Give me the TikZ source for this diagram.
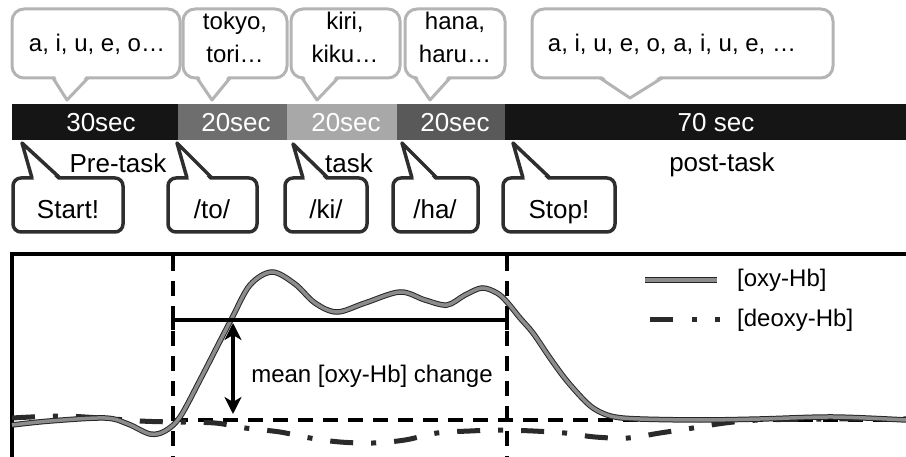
\documentclass[tikz,border=0pt]{standalone}
\usepackage{fontspec}
\setmainfont{Liberation Sans}
\usetikzlibrary{arrows.meta}
\definecolor{barblack}{HTML}{151515}
\definecolor{segA}{HTML}{6E6E6E}
\definecolor{segB}{HTML}{A8A8A8}
\definecolor{segC}{HTML}{595959}
\definecolor{topborder}{HTML}{B4B4B4}
\definecolor{botborder}{HTML}{2E2E2E}
\definecolor{oxygray}{HTML}{8C8C8C}
\definecolor{deoxygray}{HTML}{2A2A2A}
\newcommand\topbub[8]{%
  \draw[topbox] (#1,#2) rectangle (#3,#4);
  \fill[white] (#5+2,#4-2) -- (#6,#7) -- (#8-2,#4-2) -- cycle;
  \draw[toptail] (#5,#4) -- (#6,#7) -- (#8,#4);
}
\newcommand\botbub[8]{%
  \draw[botbox] (#1,#2) rectangle (#3,#4);
  \fill[white] (#5+2,#2+2) -- (#6,#7) -- (#8-2,#2+2) -- cycle;
  \draw[bottail] (#5,#2) -- (#6,#7) -- (#8,#2);
}
\begin{document}
\begin{tikzpicture}[x=1pt,y=-1pt,
  topbox/.style={draw=topborder,line width=3pt,fill=white,rounded corners=12pt},
  toptail/.style={draw=topborder,line width=3pt,line join=round},
  botbox/.style={draw=botborder,line width=3.5pt,fill=white,rounded corners=8pt},
  bottail/.style={draw=botborder,line width=3.5pt,line join=round},
  lbl/.style={font=\fontsize{24}{28}\selectfont,inner sep=0pt,anchor=base},
  biglbl/.style={font=\fontsize{26}{30}\selectfont,inner sep=0pt,anchor=base},
  bartxt/.style={font=\fontsize{26}{30}\selectfont,inner sep=0pt,anchor=base,text=white},
  frame/.style={line width=3.5pt,draw=black},
  vdash/.style={line width=3.5pt,dash pattern=on 15pt off 10pt},
  oxy/.style={draw=oxygray,line width=3.5pt,preaction={draw=black!85,line width=5.5pt}},
  deoxy/.style={draw=deoxygray,line width=5pt,dash pattern=on 23pt off 18pt on 5pt off 18pt}]
\useasboundingbox (0,0) rectangle (906,457);

% ---- top speech bubbles
\topbub{12}{9}{180}{78}{53}{67}{100}{88}
\topbub{183}{9}{287}{78}{197}{212}{100}{230}
\topbub{291}{9}{400}{78}{302}{317}{100}{338}
\topbub{405}{9}{505}{78}{415}{430}{100}{450}
\topbub{532}{9}{833}{78}{600}{630}{98}{662}
\node[lbl] (b1) at (97,52) {a, i, u, e, o…};
\node[lbl] (b2a) at (235,30) {tokyo,};
\node[lbl] (b2b) at (235,63) {tori…};
\node[lbl] (b3a) at (345,30) {kiri,};
\node[lbl] (b3b) at (345,63) {kiku…};
\node[lbl] (b4a) at (455,30) {hana,};
\node[lbl] (b4b) at (455,63) {haru…};
\node[lbl] (b5) at (672,52) {a, i, u, e, o, a, i, u, e, …};

% ---- time bar
\fill[barblack] (12,104) rectangle (178,140);
\fill[segA] (178,104) rectangle (287,140);
\fill[segB] (287,104) rectangle (397,140);
\fill[segC] (397,104) rectangle (505,140);
\fill[barblack] (505,104) rectangle (906,140);
\node[bartxt] (t1) at (101,132) {30sec};
\node[bartxt] (t2) at (236,132) {20sec};
\node[bartxt] (t3) at (346,132) {20sec};
\node[bartxt] (t4) at (455,132) {20sec};
\node[bartxt] (t5) at (716,132) {70 sec};

% ---- phase labels
\node[biglbl] (pre) at (118,173) {Pre-task};
\node[biglbl] (task) at (349,173) {task};
\node[biglbl] (post) at (722,172) {post-task};

% ---- bottom callouts
\botbub{13}{178}{123}{232}{32}{22}{143}{60}
\botbub{168}{178}{257}{232}{187}{177}{143}{212}
\botbub{285}{178}{367}{232}{303}{293}{144}{328}
\botbub{393}{178}{478}{232}{412}{402}{143}{437}
\botbub{503}{178}{615}{232}{523}{513}{143}{550}
\node[biglbl] (c1) at (68,219) {Start!};
\node[biglbl] (c2) at (212,219) {/to/};
\node[biglbl] (c3) at (326,219) {/ki/};
\node[biglbl] (c4) at (435,219) {/ha/};
\node[biglbl] (c5) at (559,219) {Stop!};

% ---- graph frame
\draw[frame] (906,254) -- (12,254) -- (12,457);
\draw[vdash] (173,256) -- (173,457);
\draw[vdash] (507,256) -- (507,457);
\draw[vdash] (173,420) -- (906,420);

% ---- curves
\draw[deoxy] plot[smooth,tension=0.55] coordinates {(12,418) (60,416) (100,418) (140,421) (173,422) (215,423) (245,428) (280,432) (310,438) (340,442) (373,443) (405,440) (437,433) (470,431) (500,430) (533,431) (565,433) (595,437) (628,438) (660,433) (693,428) (725,423) (760,420) (830,419) (906,419)};
\draw[oxy] plot[smooth,tension=0.55] coordinates {(12,425) (50,421) (105,418) (128,424) (150,434) (165,431) (180,417) (200,380) (218,345) (232,318) (250,285) (272,272) (295,284) (315,303) (337,312) (365,303) (400,292) (425,300) (447,305) (465,295) (482,288) (497,293) (507,302) (520,318) (533,333) (550,358) (567,381) (587,403) (600,412) (615,417) (640,419) (700,420) (760,419) (833,417) (906,420)};

% ---- mean bar and arrow
\draw[line width=4.5pt] (173,320) -- (507,320);
\draw[line width=3.5pt] (173,311) -- (173,330);
\draw[line width=3.5pt] (507,311) -- (507,330);
\coordinate (atop) at (233,323);
\coordinate (abot) at (233,414);
\draw[line width=4.5pt,{Stealth[length=17pt,width=17pt,inset=5pt]}-{Stealth[length=17pt,width=17pt,inset=5pt]}] (atop) -- (abot);
\node[lbl] (mean) at (372,383) {mean [oxy-Hb] change};

% ---- legend
\draw[oxy] (645,280) -- (717,280);
\node[lbl,anchor=west] (l1) at (737,280) {[oxy-Hb]};
\fill[deoxygray] (650,317.5) rectangle (673,322.5);
\fill[deoxygray] (691.5,317.5) rectangle (696.5,322.5);
\fill[deoxygray] (714.5,317.5) rectangle (719.5,322.5);
\node[lbl,anchor=west] (l2) at (737,320) {[deoxy-Hb]};
\end{tikzpicture}
\end{document}
